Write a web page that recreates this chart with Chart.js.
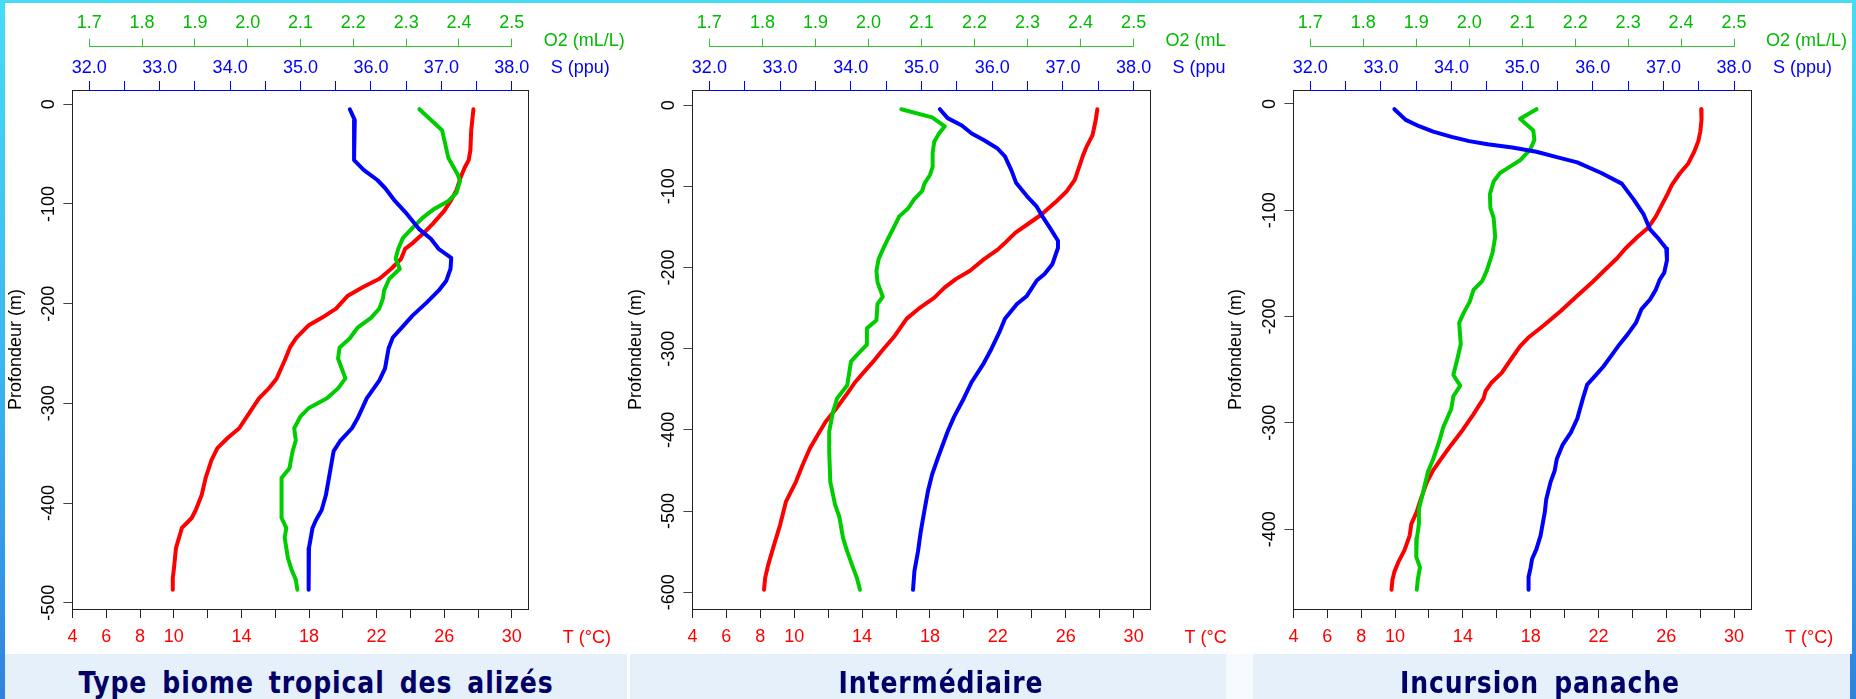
<!DOCTYPE html>
<html>
<head>
<meta charset="utf-8">
<script src="https://cdn.jsdelivr.net/npm/chart.js@4.4.1/dist/chart.umd.min.js"></script>
<style>
  body { margin:0; width:1856px; height:699px; overflow:hidden; position:relative;
         background: linear-gradient(180deg, #46dcf6 0%, #3ab4f0 55%, #2f82e0 100%); }
  .panel { position:absolute; top:3px; height:651px; background:#fff; }
  .strip { position:absolute; top:654px; height:45px; background:#e6f0fa; }
  .gap { position:absolute; top:654px; height:45px; background:#f6f9fd; }
  canvas { position:absolute; top:0; }
  .title { position:absolute; top:667px; width:600px; text-align:center; white-space:nowrap;
           font-family:"Liberation Sans Narrow","DejaVu Sans Condensed","Arial Narrow",sans-serif;
           font-weight:bold; font-size:31px; line-height:31px; color:#000066;
           letter-spacing:1px; word-spacing:6px; transform:scaleX(0.9); transform-origin:50% 50%; }
</style>
</head>
<body>
<div class="panel" style="left:5px;width:623px"></div>
<div class="panel" style="left:628px;width:598px"></div>
<div class="panel" style="left:1226px;width:626px"></div>
<div class="strip" style="left:5px;width:622px"></div>
<div class="gap" style="left:627px;width:3px;background:#fff"></div>
<div class="strip" style="left:630px;width:596px"></div>
<div class="gap" style="left:1226px;width:27px"></div>
<div class="strip" style="left:1253px;width:597px"></div>

<canvas id="c1" width="628" height="654" style="left:0px"></canvas>
<canvas id="c2" width="606" height="654" style="left:620px"></canvas>
<canvas id="c3" width="632" height="654" style="left:1220px"></canvas>

<div class="title" style="left:16px">Type biome tropical des alizés</div>
<div class="title" style="left:641px">Intermédiaire</div>
<div class="title" style="left:1240px">Incursion panache</div>

<script>
// ---- axes ----
const T_TICKS = [4, 6, 8, 10, 12, 14, 16, 18, 20, 22, 24, 26, 28, 30];
const T_LABELS = [4, 6, 8, 10, 14, 18, 22, 26, 30];
const S_TICKS = [32, 32.5, 33, 33.5, 34, 34.5, 35, 35.5, 36, 36.5, 37, 37.5, 38];
const S_LABELS = [32, 33, 34, 35, 36, 37, 38];
const O2_TICKS = [1.7, 1.8, 1.9, 2.0, 2.1, 2.2, 2.3, 2.4, 2.5];
const T_LIM = [5, 30];
const S_LIM = [32, 38];
const O2_LIM = [1.7, 2.5];

// ---- Type biome tropical des alizés ----
const P1_T_Z = [-5,-26,-46,-56,-64,-74,-86,-97,-107,-120,-130,-139,-145,-155,-165,-175,-183,-192,-205,-214,-222,-234,-243,-257,-275,-285,-295,-310,-325,-335,-345,-357,-375,-392,-407,-415,-425,-445,-467,-475,-487];
const P1_T = [27.73,27.6,27.55,27.45,27.2,26.96,26.73,26.38,26.0,25.32,24.74,24.15,23.69,23.45,22.87,22.17,21.23,20.3,19.6,18.78,17.96,17.26,16.9,16.56,16.09,15.62,15.04,14.45,13.87,13.17,12.58,12.23,11.88,11.65,11.3,11.06,10.48,10.13,10.0,9.94,9.94];
const P1_S_Z = [-5,-16,-29,-56,-66,-76,-84,-97,-110,-125,-135,-145,-154,-165,-177,-187,-199,-212,-223,-234,-245,-265,-277,-295,-315,-325,-338,-348,-368,-392,-407,-417,-425,-445,-468,-487];
const P1_S = [35.70,35.77,35.76,35.76,35.90,36.09,36.20,36.34,36.51,36.68,36.85,36.96,37.14,37.13,37.07,36.96,36.79,36.59,36.45,36.31,36.25,36.20,36.12,35.94,35.81,35.73,35.56,35.47,35.42,35.36,35.30,35.22,35.17,35.12,35.12,35.11];
const P1_O2_Z = [-5,-26,-54,-71,-77,-89,-97,-105,-114,-124,-134,-145,-155,-165,-175,-187,-195,-205,-214,-224,-235,-244,-255,-265,-275,-285,-295,-305,-313,-325,-337,-348,-365,-375,-395,-415,-425,-435,-455,-467,-477,-487];
const P1_O2 = [2.325,2.368,2.380,2.398,2.402,2.395,2.380,2.353,2.331,2.312,2.294,2.285,2.280,2.288,2.268,2.258,2.256,2.249,2.234,2.208,2.193,2.174,2.171,2.178,2.185,2.171,2.150,2.115,2.100,2.088,2.091,2.085,2.079,2.064,2.064,2.064,2.073,2.070,2.076,2.083,2.091,2.094];

// ---- Intermédiaire ----
const P2_T_Z = [-5,-18,-37,-51,-63,-78,-92,-106,-120,-135,-147,-157,-169,-178,-190,-204,-214,-225,-237,-249,-263,-284,-304,-316,-327,-341,-355,-373,-390,-406,-423,-443,-464,-488,-517,-541,-566,-582,-597];
const P2_T = [27.86,27.77,27.58,27.23,27.0,26.76,26.53,26.06,25.37,24.55,23.73,23.04,22.45,21.99,21.17,20.36,19.54,18.84,18.26,17.44,16.63,15.93,15.11,14.65,14.18,13.6,13.13,12.5,11.85,11.39,10.92,10.5,10.1,9.52,9.17,8.82,8.47,8.29,8.22];
const P2_S_Z = [-5,-16,-25,-35,-43,-53,-63,-80,-96,-112,-125,-137,-153,-167,-176,-196,-208,-216,-235,-245,-263,-280,-300,-318,-341,-361,-384,-402,-435,-455,-476,-500,-525,-550,-574,-597];
const P2_S = [35.26,35.37,35.57,35.71,35.88,36.07,36.18,36.27,36.34,36.49,36.63,36.71,36.83,36.93,36.93,36.85,36.74,36.63,36.49,36.35,36.18,36.10,35.99,35.88,35.71,35.60,35.46,35.37,35.23,35.15,35.09,35.04,34.99,34.95,34.90,34.88];
const P2_O2_Z = [-5,-15,-26,-35,-45,-59,-76,-86,-96,-106,-116,-127,-137,-149,-163,-178,-190,-204,-218,-236,-245,-265,-275,-295,-308,-316,-345,-361,-378,-402,-427,-464,-492,-507,-533,-550,-570,-582,-597];
const P2_O2 = [2.062,2.120,2.144,2.133,2.124,2.121,2.121,2.116,2.106,2.101,2.086,2.075,2.058,2.049,2.038,2.027,2.019,2.015,2.017,2.027,2.017,2.015,1.997,1.997,1.978,1.967,1.960,1.941,1.933,1.926,1.926,1.928,1.937,1.945,1.952,1.960,1.971,1.978,1.984];

// ---- Incursion panache ----
const P3_T_Z = [-5,-15,-26,-35,-45,-56,-65,-76,-84,-95,-106,-117,-125,-136,-145,-156,-167,-181,-195,-208,-220,-228,-239,-253,-262,-270,-277,-292,-306,-321,-334,-345,-356,-372,-384,-395,-406,-420,-431,-440,-448,-457];
const P3_T = [28.06,28.08,28.01,27.89,27.65,27.30,26.82,26.34,26.10,25.74,25.38,24.90,24.31,23.59,23.11,22.39,21.68,20.72,19.76,18.80,17.85,17.37,16.89,16.29,15.70,15.34,15.22,14.62,14.02,13.30,12.71,12.23,11.87,11.51,11.27,10.96,10.86,10.55,10.19,9.96,9.84,9.79];
const P3_S_Z = [-5,-15,-21,-26,-31,-35,-38,-41,-45,-50,-55,-65,-75,-90,-104,-118,-126,-136,-147,-159,-165,-175,-184,-193,-206,-217,-226,-237,-247,-256,-264,-277,-296,-309,-321,-334,-345,-356,-372,-384,-395,-406,-419,-428,-436,-445,-457];
const P3_S = [33.19,33.35,33.54,33.74,34.00,34.25,34.51,34.86,35.20,35.49,35.78,36.12,36.41,36.58,36.72,36.81,36.92,37.04,37.05,37.01,36.95,36.89,36.81,36.69,36.61,36.49,36.38,36.26,36.15,36.03,35.92,35.86,35.78,35.69,35.57,35.49,35.46,35.40,35.34,35.32,35.29,35.26,35.20,35.14,35.12,35.09,35.09];
const P3_O2_Z = [-5,-14,-25,-34,-43,-53,-59,-65,-73,-85,-98,-107,-125,-140,-157,-167,-175,-186,-197,-206,-226,-239,-255,-265,-275,-287,-304,-318,-334,-346,-365,-381,-395,-409,-426,-436,-447,-457];
const P3_O2 = [2.127,2.096,2.121,2.123,2.115,2.096,2.077,2.058,2.046,2.039,2.040,2.046,2.049,2.044,2.033,2.024,2.008,2.001,1.989,1.981,1.984,1.978,1.970,1.983,1.970,1.966,1.951,1.943,1.932,1.922,1.913,1.905,1.905,1.901,1.900,1.907,1.903,1.901];

const FONT = '"Liberation Sans", Arial, sans-serif';
const FS = 18;
const RED = '#ff0000', BLUE = '#0000ff', GREEN = '#00cd00', GREEN_TXT = '#00bb00';

const pad4 = ([a, b]) => [a - 0.04 * (b - a), b + 0.04 * (b - a)];
const pts = (xs, zs) => xs.map((v, i) => ({ x: v, y: zs[i] }));
const fixTicks = arr => s => { s.ticks = arr.map(v => ({ value: v })); };

const decor = {
    id: 'decor',
    afterDraw(chart) {
        const { ctx, chartArea: a, scales } = chart;
        const sx = scales.xS, ox = scales.xO, tx = scales.xT;
        ctx.save();
        ctx.lineWidth = 1;
        ctx.strokeStyle = '#222';
        ctx.strokeRect(Math.round(a.left) + 0.5, Math.round(a.top) + 0.5, Math.round(a.right - a.left), Math.round(a.bottom - a.top));
        ctx.beginPath();
        ctx.strokeStyle = BLUE;
        ctx.moveTo(sx.getPixelForValue(S_TICKS[0]), Math.round(a.top) + 0.5);
        ctx.lineTo(sx.getPixelForValue(S_TICKS[S_TICKS.length - 1]), Math.round(a.top) + 0.5);
        ctx.stroke();
        ctx.beginPath();
        ctx.strokeStyle = '#33c433';
        ctx.moveTo(ox.getPixelForValue(O2_TICKS[0]), Math.round(ox.bottom) - 0.5);
        ctx.lineTo(ox.getPixelForValue(O2_TICKS[O2_TICKS.length - 1]), Math.round(ox.bottom) - 0.5);
        ctx.stroke();
        ctx.font = FS + 'px ' + FONT;
        ctx.textAlign = 'left';
        ctx.textBaseline = 'middle';
        ctx.fillStyle = GREEN_TXT;
        ctx.fillText('O2 (mL/L)', a.right + 15, ox.bottom - 6);
        ctx.fillStyle = BLUE;
        ctx.fillText('S (ppu)', a.right + 22, a.top - 22);
        ctx.fillStyle = RED;
        ctx.fillText('T (°C)', a.right + 34, tx.top + 29);
        ctx.restore();
    }
};

function makePanel(id, T, TZ, S, SZ, O2, O2Z, yTicks, yWidth, padRight) {
    const allZ = TZ.concat(SZ, O2Z);
    const yr = pad4([Math.min(...allZ), Math.max(...allZ)]);
    const tr = pad4(T_LIM), sr = pad4(S_LIM), orr = pad4(O2_LIM);
    const tickFont = { family: FONT, size: FS };
    const line = (data, color, xid, order) => ({
        data, xAxisID: xid, yAxisID: 'y', showLine: true, pointRadius: 0, borderWidth: 4,
        borderColor: color, backgroundColor: color, fill: false, order,
        borderJoinStyle: 'round', borderCapStyle: 'round'
    });
    return new Chart(document.getElementById(id), {
        type: 'scatter',
        data: { datasets: [
            line(pts(S, SZ), BLUE, 'xS', 1),
            line(pts(O2, O2Z), GREEN, 'xO', 2),
            line(pts(T, TZ), RED, 'xT', 3)
        ] },
        options: {
            responsive: false, animation: false, devicePixelRatio: 1, events: [],
            layout: { padding: { left: 0, top: 0, right: padRight, bottom: 0 } },
            plugins: { legend: { display: false }, tooltip: { enabled: false } },
            scales: {
                xT: { axis: 'x', type: 'linear', position: 'bottom', min: tr[0], max: tr[1],
                      afterBuildTicks: fixTicks(T_TICKS),
                      ticks: { color: RED, font: tickFont, padding: 8, maxRotation: 0, autoSkip: false,
                               callback: v => T_LABELS.includes(v) ? String(v) : '' },
                      grid: { drawOnChartArea: false, drawTicks: true, tickLength: 9, tickColor: '#222' },
                      border: { display: false },
                      afterFit: s => { s.height = 45; } },
                xS: { axis: 'x', type: 'linear', position: 'top', weight: 0, min: sr[0], max: sr[1],
                      afterBuildTicks: fixTicks(S_TICKS),
                      ticks: { color: BLUE, font: tickFont, padding: 2, maxRotation: 0, autoSkip: false,
                               callback: v => S_LABELS.includes(v) ? v.toFixed(1) : '' },
                      grid: { drawOnChartArea: false, drawTicks: true, tickLength: 9, tickColor: BLUE },
                      border: { display: false },
                      afterFit: s => { s.height = 43.3; } },
                xO: { axis: 'x', type: 'linear', position: 'top', weight: 1, min: orr[0], max: orr[1],
                      afterBuildTicks: fixTicks(O2_TICKS),
                      ticks: { color: GREEN_TXT, font: tickFont, padding: 5, maxRotation: 0, autoSkip: false,
                               callback: v => v.toFixed(1) },
                      grid: { drawOnChartArea: false, drawTicks: true, tickLength: 8, tickColor: '#33c433' },
                      border: { display: false },
                      afterFit: s => { s.height = 46.7; } },
                y: { axis: 'y', type: 'linear', position: 'left', min: yr[0], max: yr[1],
                     afterBuildTicks: fixTicks(yTicks),
                     ticks: { color: '#000', font: tickFont, minRotation: 90, maxRotation: 90,
                              crossAlign: 'center', padding: -4, callback: v => String(v) },
                     grid: { drawOnChartArea: false, drawTicks: true, tickLength: 9, tickColor: '#444' },
                     border: { display: false },
                     title: { display: true, text: 'Profondeur (m)', color: '#000',
                              font: { family: FONT, size: FS }, padding: { top: 5, bottom: 0 } },
                     afterFit: s => { s.width = yWidth; } }
            }
        },
        plugins: [decor]
    });
}

makePanel('c1', P1_T, P1_T_Z, P1_S, P1_S_Z, P1_O2, P1_O2_Z, [0, -100, -200, -300, -400, -500], 72.4, 99.3);
makePanel('c2', P2_T, P2_T_Z, P2_S, P2_S_Z, P2_O2, P2_O2_Z, [0, -100, -200, -300, -400, -500, -600], 72.4, 75.4);
makePanel('c3', P3_T, P3_T_Z, P3_S, P3_S_Z, P3_O2, P3_O2_Z, [0, -100, -200, -300, -400], 73.4, 101);
</script>
</body>
</html>
